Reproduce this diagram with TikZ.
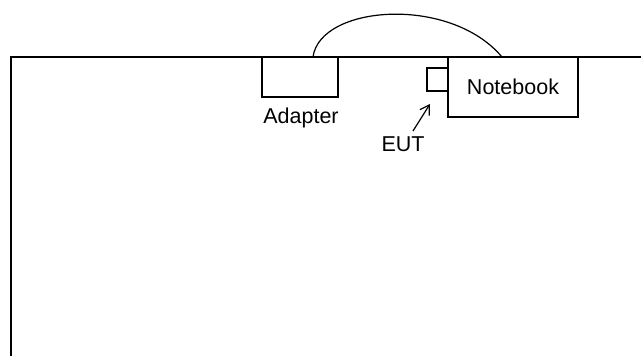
\documentclass[tikz,border=0pt]{standalone}
\usepackage{fontspec}
\setmainfont{Liberation Sans}
\usetikzlibrary{arrows.meta}
\begin{document}
\begin{tikzpicture}[x=1pt,y=-1pt,
  line/.style={line width=1.3pt,black},
  boxx/.style={draw,line width=1.2pt,inner sep=0pt,outer sep=0pt},
  lbl/.style={font=\fontsize{21.5}{25}\selectfont,inner sep=0pt}]
\useasboundingbox (0,0) rectangle (641,356);
% table edges
\draw[line] (11,356) -- (11,57) -- (641,57);
% adapter
\node[boxx,minimum width=76pt,minimum height=40pt] (adapter) at (300,77) {};
\node[lbl] (adlbl) at (301,118) {Adapter};
% notebook
\node[boxx,minimum width=130pt,minimum height=60pt] (nb) at (513,87) {};
\node[lbl] at (nb.center) {Notebook};
% EUT
\node[boxx,minimum width=21pt,minimum height=23pt] (eut) at (437.5,79.5) {};
\node[lbl] (eutlbl) at (403,144) {EUT};
\coordinate (arrS) at (413,131);
\coordinate (arrE) at (430,104);
\draw[line width=1.2pt,-{Straight Barb[length=9pt,width=11pt]}] (arrS) -- (arrE);
% cable
\coordinate (c1) at (313,57);
\coordinate (c2) at (502,57);
\draw[line width=1.2pt] (c1) .. controls (320,5) and (450,-5) .. (c2);
\end{tikzpicture}
\end{document}
